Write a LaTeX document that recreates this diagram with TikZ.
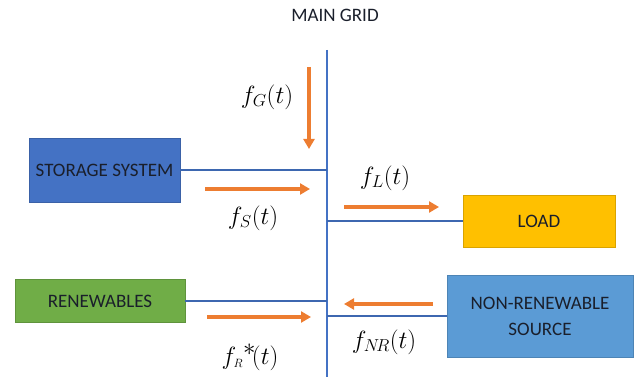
\documentclass[tikz,border=0pt]{standalone}
\usepackage{fontspec}
\setmainfont{Carlito}
\usetikzlibrary{arrows.meta, positioning}
\definecolor{busblue}{HTML}{4472C4}
\definecolor{flow}{HTML}{ED7D31}
\definecolor{storage}{HTML}{4472C4}
\definecolor{load}{HTML}{FFC000}
\definecolor{renew}{HTML}{70AD47}
\definecolor{nonrenew}{HTML}{5B9BD5}
\definecolor{boxtext}{HTML}{1A1F2B}

\begin{document}
\begin{tikzpicture}[
    x=1pt, y=-1pt,
    unit/.style={draw=#1!85!black, fill=#1, line width=0.6pt, inner sep=0pt, font=\fontsize{19}{23}\selectfont, text=boxtext, align=center},
    bus/.style={draw=busblue, line width=2.4pt},
    link/.style={draw=busblue!90!black, line width=2.2pt},
    flowarrow/.style={-{Triangle[length=10pt, width=11pt]}, draw=flow, line width=4pt},
    fl/.style={font=\fontsize{23}{27}\selectfont},
]
\useasboundingbox (0,0) rectangle (641,382);

% Main grid bus
\node[font=\fontsize{19}{23}\selectfont, text=boxtext] (grid) at (335,15) {MAIN GRID};
\coordinate (bustop) at (327,50);
\coordinate (busbot) at (327,377);
\draw[bus] (bustop) -- (busbot);

% Units
\node[unit=storage, minimum width=151pt, minimum height=64pt] (sto) at (104.5,170) {STORAGE SYSTEM};
\node[unit=load, minimum width=152pt, minimum height=52pt] (ld) at (539,221) {LOAD};
\node[unit=renew, minimum width=170pt, minimum height=43pt] (ren) at (100,301) {RENEWABLES};
\node[unit=nonrenew, minimum width=186pt, minimum height=82pt] (nr) at (540,316) {NON-RENEWABLE\\[3pt]SOURCE};

% Links to the bus
\draw[link] (sto.east) -- (sto.east -| bustop);
\draw[link] (ld.west) -- (ld.west -| bustop);
\draw[link] (ren.east) -- (ren.east -| bustop);
\draw[link] (nr.west) -- (nr.west -| bustop);

% Flows
\coordinate (g1) at (309,67);   \coordinate (g2) at (309,149);
\coordinate (s1) at (205,189);  \coordinate (s2) at (310,189);
\coordinate (l1) at (344,207);  \coordinate (l2) at (439,207);
\coordinate (r1) at (207,317);  \coordinate (r2) at (311,317);
\coordinate (n1) at (433,304);  \coordinate (n2) at (344,304);
\draw[flowarrow] (g1) -- (g2);
\draw[flowarrow] (s1) -- (s2);
\draw[flowarrow] (l1) -- (l2);
\draw[flowarrow] (r1) -- (r2);
\draw[flowarrow] (n1) -- (n2);

% Flow labels
\node[fl] (fg) at (267,97) {$f_G(t)$};
\node[fl] (fs) at (253,218) {$f_S(t)$};
\node[fl] (fld) at (385,178) {$f_L(t)$};
\node[fl] (fr) at (250,357) {$f_{\scriptscriptstyle R}{}^{\textstyle *}\!(t)$};
\node[fl] (fnr) at (384,342) {$f_{N\!R}(t)$};

\end{tikzpicture}
\end{document}
